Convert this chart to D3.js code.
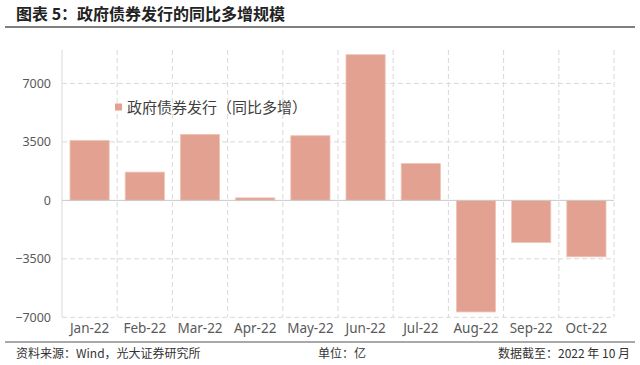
<!DOCTYPE html>
<html>
<head>
<meta charset="utf-8">
<script src="https://cdn.jsdelivr.net/npm/d3@7"></script>
<style>
  body { margin: 0; background: #fff; }
  svg { display: block; font-family: "Noto Sans CJK SC", "Noto Sans", sans-serif; }
</style>
</head>
<body>
<script>
// data (亿)
var months = ["Jan-22", "Feb-22", "Mar-22", "Apr-22", "May-22", "Jun-22", "Jul-22", "Aug-22", "Sep-22", "Oct-22"];
var values = [3590, 1690, 3950, 150, 3870, 8720, 2200, -6680, -2520, -3380];
var yTicks = [-7000, -3500, 0, 3500, 7000];

var width = 640, height = 365;
var margin = { top: 50, left: 62, right: 26, bottom: 48 };

var svg = d3.select("body").append("svg")
    .attr("width", width)
    .attr("height", height);

// title + rules
svg.append("text")
    .attr("x", 16).attr("y", 20)
    .attr("font-size", 16).attr("font-weight", "bold")
    .attr("fill", "#222")
    .text("图表 5：政府债券发行的同比多增规模");
svg.append("line")
    .attr("x1", 5).attr("x2", 635).attr("y1", 27).attr("y2", 27)
    .attr("stroke", "#555").attr("stroke-width", 1.5);
svg.append("line")
    .attr("x1", 5).attr("x2", 635).attr("y1", 342).attr("y2", 342)
    .attr("stroke", "#555").attr("stroke-width", 1.2);

// scales
var x = d3.scaleBand()
    .domain(months)
    .range([margin.left, width - margin.right]);
var y = d3.scaleLinear()
    .domain([-7000, 9000])
    .range([317.3, margin.top]);

var grid = svg.append("g");

// horizontal dashed grid
grid.selectAll(".hgrid")
    .data(yTicks.filter(function(d) { return d !== 0; }))
  .enter().append("line")
    .attr("x1", margin.left).attr("x2", width - margin.right)
    .attr("y1", function(d) { return y(d); })
    .attr("y2", function(d) { return y(d); })
    .attr("stroke", "#d9d9d9").attr("stroke-dasharray", "5,3");

// vertical dashed grid at category boundaries
grid.selectAll(".vgrid")
    .data(months)
  .enter().append("line")
    .attr("x1", function(d) { return x(d) + x.bandwidth(); })
    .attr("x2", function(d) { return x(d) + x.bandwidth(); })
    .attr("y1", margin.top).attr("y2", y(-7000))
    .attr("stroke", "#d9d9d9").attr("stroke-dasharray", "5,3");

// left axis line
svg.append("line")
    .attr("x1", margin.left).attr("x2", margin.left)
    .attr("y1", margin.top).attr("y2", y(-7000))
    .attr("stroke", "#d9d9d9");

// bars
var pad = x.bandwidth() * 0.145;
svg.selectAll(".bar")
    .data(values)
  .enter().append("rect")
    .attr("class", "bar")
    .attr("x", function(d, i) { return x(months[i]) + pad; })
    .attr("width", x.bandwidth() - 2 * pad)
    .attr("y", function(d) { return y(Math.max(0, d)); })
    .attr("height", function(d) { return Math.abs(y(d) - y(0)); })
    .attr("fill", "#e3a291")
    .attr("stroke", "#efc4b8").attr("stroke-width", 0.8);

// zero line
svg.append("line")
    .attr("x1", margin.left).attr("x2", width - margin.right)
    .attr("y1", y(0)).attr("y2", y(0))
    .attr("stroke", "#c8c8c8");

// y axis labels
var yAxis = d3.axisLeft(y).tickValues(yTicks).tickFormat(d3.format("d"))
    .tickSize(0).tickPadding(11);
var yg = svg.append("g")
    .attr("transform", "translate(" + margin.left + ",0)")
    .call(yAxis);
yg.select(".domain").remove();
yg.selectAll("text")
    .attr("font-size", 12.5).attr("fill", "#595959")
    .attr("font-family", "'Noto Sans', sans-serif");

// x axis labels
var xAxis = d3.axisBottom(x).tickSize(0).tickPadding(6);
var xg = svg.append("g")
    .attr("transform", "translate(0," + y(-7000) + ")")
    .call(xAxis);
xg.select(".domain").remove();
xg.selectAll("text")
    .attr("font-size", 13.5).attr("fill", "#595959")
    .attr("font-family", "'Noto Sans', sans-serif");

// legend
svg.append("rect")
    .attr("x", 115).attr("y", 103.5)
    .attr("width", 7).attr("height", 7)
    .attr("fill", "#e3a291");
svg.append("text")
    .attr("x", 127).attr("y", 112.5)
    .attr("font-size", 15).attr("fill", "#404040")
    .text("政府债券发行（同比多增）");

// footer
svg.append("text")
    .attr("x", 16).attr("y", 358)
    .attr("font-size", 12).attr("fill", "#333")
    .text("资料来源：Wind，光大证券研究所");
svg.append("text")
    .attr("x", 318).attr("y", 358)
    .attr("font-size", 12).attr("fill", "#333")
    .text("单位：亿");
svg.append("text")
    .attr("x", 630).attr("y", 358)
    .attr("text-anchor", "end")
    .attr("font-size", 12).attr("fill", "#333")
    .text("数据截至：2022 年 10 月");
</script>
</body>
</html>
